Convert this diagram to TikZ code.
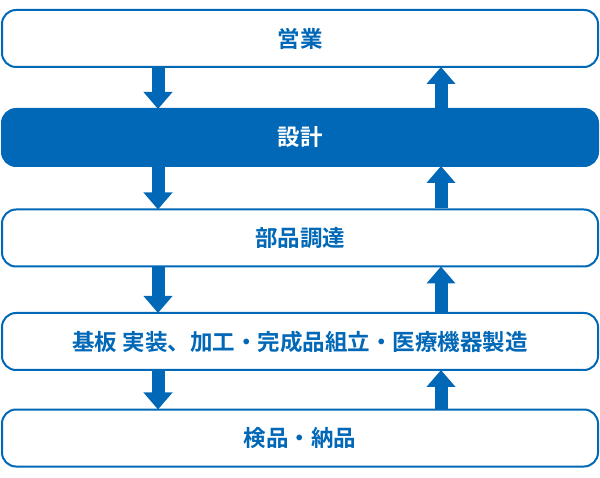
\documentclass[tikz,border=0pt]{standalone}
\usepackage{fontspec}
\newfontfamily\jp{Noto Sans CJK JP}[BoldFont={Noto Sans CJK JP Bold}]
\usetikzlibrary{arrows.meta}
\definecolor{mblue}{HTML}{0068B7}
\tikzset{
 box/.style={draw=mblue,line width=2pt,rounded corners=14pt,minimum width=596pt,minimum height=57pt,fill=white,text=mblue,font=\jp\bfseries\fontsize{22.5pt}{26pt}\selectfont},
 boxf/.style={box,fill=mblue,text=white},
 flow/.style={draw=mblue,line width=13pt,-{Triangle[width=28pt 0,length=17pt 0]},shorten >=-1pt}
}
\begin{document}
\begin{tikzpicture}[x=1pt,y=-1pt]
\useasboundingbox (0,0) rectangle (600,478);
\node[box] (b1) at (300,38.5) {営業};
\node[boxf] (b2) at (300,137.5) {設計};
\node[box] (b3) at (300,238) {部品調達};
\node[box] (b4) at (300,341.5) {基板 実装、加工・完成品組立・医療機器製造};
\node[box] (b5) at (300,438) {検品・納品};
\coordinate (dx) at (158,0);
\coordinate (ux) at (441,0);
\foreach \a/\b in {b1/b2,b2/b3,b3/b4,b4/b5}{
 \draw[flow] (\a.south -| dx) -- (\b.north -| dx);
 \draw[flow] (\b.north -| ux) -- (\a.south -| ux);
}
\end{tikzpicture}
\end{document}
